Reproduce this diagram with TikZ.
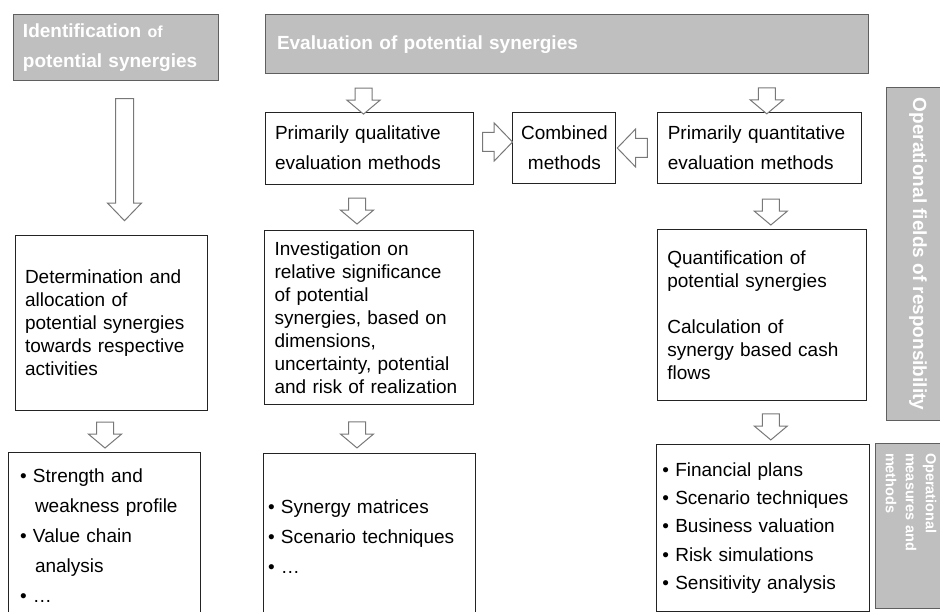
\documentclass[tikz,border=0pt]{standalone}
\usepackage{fontspec}
\setmainfont{Liberation Sans}
\usetikzlibrary{positioning,calc,shapes.arrows}
\definecolor{hdrgray}{RGB}{191,191,191}
\definecolor{hdrline}{RGB}{95,95,95}
\definecolor{boxline}{RGB}{35,35,35}
\definecolor{arrline}{RGB}{120,120,120}
\newcommand\bul{\textbullet\ }

\begin{document}
\begin{tikzpicture}[x=1pt, y=-1pt,
  hdr/.style={draw=hdrline, fill=hdrgray, line width=1pt, text=white, align=left,
    inner xsep=10pt, font=\fontsize{19}{30}\selectfont\bfseries},
  box/.style={draw=boxline, line width=0.9pt, align=left, inner xsep=10pt,
    font=\fontsize{19}{23}\selectfont},
  lst/.style={box, font=\fontsize{19}{30}\selectfont},
  blk/.style={single arrow, draw=arrline, fill=white, line width=1pt, inner sep=0pt,
    minimum width=0pt},
  darr/.style={blk, rotate=-90, inner ysep=8pt, minimum height=26pt,
    single arrow head extend=8pt, single arrow tip angle=100},
  harr/.style={blk, inner ysep=9pt, minimum height=30pt,
    single arrow head extend=9.5pt, single arrow tip angle=92}]
\useasboundingbox (0,0) rectangle (940,612);

% headers
\node[hdr, text width=185pt, minimum height=66pt] (ident) at (115.5,48)
  {Identification {\fontsize{16}{30}\selectfont of}\\potential synergies};
\node[hdr, text width=579pt, inner xsep=12pt, minimum height=59pt,
  font=\fontsize{19}{22}\selectfont\bfseries] (eval) at (566.5,44.5)
  {Evaluation of potential synergies};
\node[hdr, rotate=-90, align=center, minimum width=332pt, minimum height=64pt,
  font=\fontsize{19}{22}\selectfont\bfseries] (fields) at (918,254)
  {Operational fields of responsibility};
\node[hdr, rotate=-90, text width=145pt, minimum height=72pt,
  font=\fontsize{14.5}{20}\selectfont\bfseries] (measures) at (911,525.5)
  {Operational\\measures and\\methods};

% identification column
\node[box, text width=172pt, minimum height=175pt] (determ) at (111,322.5)
  {Determination and\\allocation of\\potential synergies\\towards respective\\activities};
\node[lst, text width=168pt, inner xsep=12pt, minimum height=166pt,
  below=42pt of determ, xshift=-7pt] (toolsL)
  {\bul Strength and\\\hspace*{15pt}weakness profile\\\bul Value chain\\\hspace*{15pt}analysis\\\bul\dots};

% evaluation columns
\node[lst, text width=188pt, minimum height=72pt] (qual) at (369,148)
  {Primarily qualitative\\evaluation methods};
\node[lst, align=center, text width=93pt, inner xsep=5pt, minimum height=71pt,
  right=39pt of qual] (comb) {Combined\\methods};
\node[lst, text width=184pt, minimum height=71pt, right=41pt of comb] (quant)
  {Primarily quantitative\\evaluation methods};
\node[box, text width=189pt, minimum height=174pt, below=46pt of qual] (invest)
  {Investigation on\\relative significance\\of potential\\synergies, based on\\dimensions,\\uncertainty, potential\\and risk of realization};
\node[lst, text width=202pt, inner xsep=5pt, minimum height=166pt,
  below=48pt of invest] (toolsM)
  {\bul Synergy matrices\\\bul Scenario techniques\\\bul\dots};
\node[box, text width=189pt, minimum height=171pt, below=45pt of quant, xshift=2pt] (quantif)
  {Quantification of\\potential synergies\\[23pt]Calculation of\\synergy based cash\\flows};
\node[lst, text width=201pt, inner xsep=6pt, minimum height=167pt,
  font=\fontsize{19}{28.3}\selectfont, below=43pt of quantif, xshift=1pt] (toolsR)
  {\bul Financial plans\\\bul Scenario techniques\\\bul Business valuation\\\bul Risk simulations\\\bul Sensitivity analysis};

% block arrows
\node[darr, minimum height=122pt, inner ysep=8.5pt, single arrow tip angle=88] (a0)
  at ($(ident.south -| determ.north)!.5!(determ.north)+(13.5pt,3pt)$) {};
\node[darr] (a1) at ($(determ.south -| toolsL.north)!.5!(toolsL.north)+(1pt,0pt)$) {};
\node[darr] (a2) at ($(eval.south -| qual.north)!.5!(qual.north)+(-5.5pt,-4.5pt)$) {};
\node[darr] (a3) at ($(qual.south)!.5!(invest.north)+(-12pt,0pt)$) {};
\node[darr] (a4) at ($(invest.south -| toolsM.north)!.5!(toolsM.north)+(-12pt,-2pt)$) {};
\node[harr] (a5) at ($(qual.east)!.5!(comb.west)+(0pt,6pt)$) {};
\node[harr, rotate=180] (a6) at ($(quant.west)!.5!(comb.east)$) {};
\node[darr] (a7) at ($(eval.south -| quant.north)!.5!(quant.north)+(7pt,-4pt)$) {};
\node[darr] (a8) at ($(quant.south -| quantif.north)!.5!(quantif.north)+(9pt,-2pt)$) {};
\node[darr] (a9) at ($(quantif.south -| toolsR.north)!.5!(toolsR.north)+(8pt,-1pt)$) {};
\end{tikzpicture}
\end{document}
